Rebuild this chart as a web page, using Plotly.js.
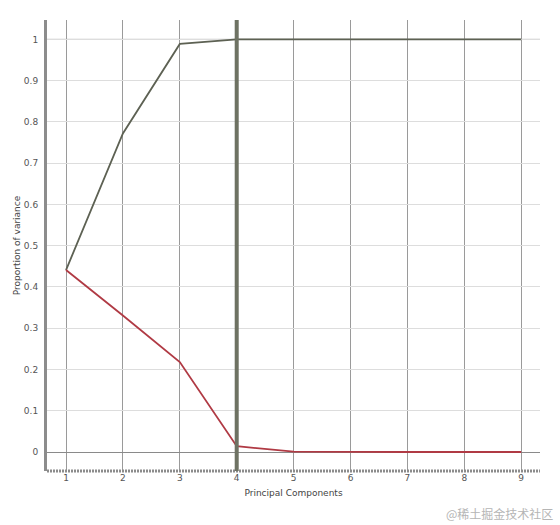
<!DOCTYPE html>
<html>
<head>
<meta charset="utf-8">
<script src="https://cdn.plot.ly/plotly-3.0.1.min.js"></script>
<style>html,body{margin:0;padding:0;background:#fff;}#chart{width:560px;height:525px;}</style>
</head>
<body>
<div id="chart"></div>
<script>
const components = [1, 2, 3, 4, 5, 6, 7, 8, 9];
const cumulativeVariance = [0.441, 0.772, 0.989, 1.0, 1.0, 1.0, 1.0, 1.0, 1.0];
const explainedVariance = [0.441, 0.331, 0.218, 0.014, 0.001, 0.0, 0.0, 0.0, 0.0];
const yTicks = [0, 0.1, 0.2, 0.3, 0.4, 0.5, 0.6, 0.7, 0.8, 0.9, 1];
const yTickLabels = ["0", "0.1", "0.2", "0.3", "0.4", "0.5", "0.6", "0.7", "0.8", "0.9", "1"];
const cutoff = 4;

const tickFont = {family: "DejaVu Sans, sans-serif", size: 9, color: "#555"};

const data = [
  {x: components, y: cumulativeVariance, type: "scatter", mode: "lines",
   line: {color: "#5d6153", width: 1.8}, hoverinfo: "x+y"},
  {x: components, y: explainedVariance, type: "scatter", mode: "lines",
   line: {color: "#b03a44", width: 1.8}, hoverinfo: "x+y"}
];

const layout = {
  width: 560, height: 525,
  margin: {l: 47, r: 20, t: 20, b: 54},
  paper_bgcolor: "#fff", plot_bgcolor: "#fff",
  showlegend: false,
  xaxis: {
    range: [0.666, 9.33],
    tickvals: components, ticktext: components.map(String),
    showgrid: true, gridcolor: "#9a9a9a", gridwidth: 1,
    zeroline: false, showline: false, ticks: "",
    tickfont: tickFont, ticklabelstandoff: 0,
    title: {text: "Principal Components", font: {family: "DejaVu Sans, sans-serif", size: 9, color: "#444"}, standoff: 7}
  },
  yaxis: {
    range: [-0.046, 1.047],
    tickvals: yTicks, ticktext: yTickLabels,
    showgrid: true, gridcolor: "#dddddd", gridwidth: 1,
    zeroline: true, zerolinecolor: "#8a8a8a", zerolinewidth: 1,
    showline: true, linecolor: "#8c8c8c", linewidth: 3,
    ticks: "", tickfont: tickFont, ticklabelstandoff: 4,
    title: {text: "Proportion of variance", font: {family: "DejaVu Sans, sans-serif", size: 9, color: "#444"}, standoff: 2}
  },
  shapes: [
    {type: "line", xref: "paper", yref: "y", x0: 0, x1: 1, y0: 1, y1: 1,
     line: {color: "#8a8a8a", width: 1}, layer: "below"},
    {type: "line", xref: "paper", yref: "paper", x0: 0, x1: 1, y0: 0, y1: 0,
     line: {color: "#8c8c8c", width: 3, dash: "2px,1px"}},
    {type: "line", xref: "x", yref: "paper", x0: cutoff, x1: cutoff, y0: 0, y1: 1,
     line: {color: "#6e7263", width: 4}}
  ],
  annotations: [
    {text: "@稀土掘金技术社区", xref: "paper", yref: "paper", x: 1.03, y: -0.095,
     xanchor: "right", yanchor: "middle", showarrow: false,
     font: {family: "Noto Sans CJK SC", size: 12, color: "#b5b5b5"}}
  ]
};

Plotly.newPlot("chart", data, layout, {displayModeBar: false, staticPlot: true});
</script>
</body>
</html>
